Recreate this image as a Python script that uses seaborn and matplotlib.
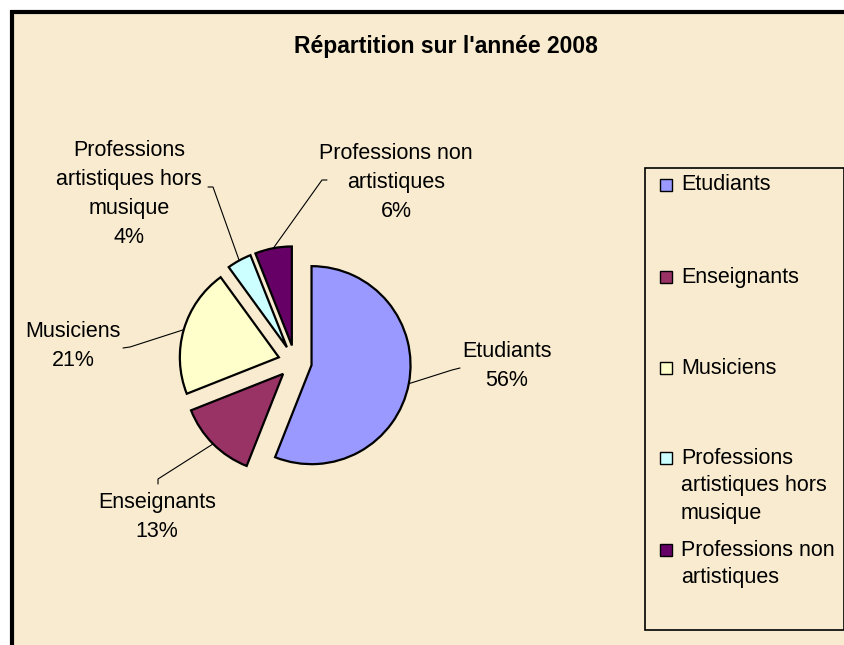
import matplotlib.pyplot as plt
import numpy as np
import seaborn as sns
from matplotlib.patches import Rectangle

# donnees
categories = [
    "Etudiants",
    "Enseignants",
    "Musiciens",
    "Professions\nartistiques hors\nmusique",
    "Professions non\nartistiques",
]
shares = [56, 13, 21, 4, 6]
colors = ["#9999FF", "#993366", "#FFFFCC", "#CCFFFF", "#660066"]
title = "Répartition sur l'année 2008"

W, H = 845, 645
CX, CY, R = 295, 362, 99  # centre et rayon du camembert (pixels)

# position des etiquettes et des traits de rappel (pixels)
label_xy = [(507, 366), (157, 517), (73, 346), (129, 194), (396, 182)]
leader_elbow = [(452, 370), (158, 479), (130, 347), (213, 187), (322, 180)]
leader_end = [(460, 368), (158, 484), (123, 348), (208, 187), (327, 180)]
legend_rows = [185, 277, 368, 458, 550]

sns.set_theme(style="white")
plt.rcParams["font.family"] = ["Liberation Sans", "DejaVu Sans"]

fig = plt.figure(figsize=(W / 100, H / 100), dpi=100)
fig.patch.set_facecolor("white")

# fond et cadre
bg = fig.add_axes([0, 0, 1, 1])
bg.set_xlim(0, W)
bg.set_ylim(H, 0)
bg.axis("off")
bg.add_patch(Rectangle((12, 12), W + 10, H + 10, facecolor="#F8EBCF",
                       edgecolor="black", linewidth=3))
bg.text(446, 47, title, ha="center", va="center", fontsize=16.5,
        fontweight="bold", color="black")


def px(x, y):
    return (x - CX) / R, (CY - y) / R


# camembert
span = 1.5
ax = fig.add_axes([(CX - span * R) / W, (H - CY - span * R) / H,
                   2 * span * R / W, 2 * span * R / H])
wedges, _ = ax.pie(
    shares,
    colors=sns.color_palette(colors),
    startangle=90,
    counterclock=False,
    explode=[0.17] * len(shares),
    radius=1,
    center=(0, 0),
    wedgeprops=dict(edgecolor="black", linewidth=1.6),
    frame=False,
)
ax.set_xlim(-span, span)
ax.set_ylim(-span, span)
ax.axis("off")

line_h = 29 / R
for w, name, share, lxy, elb, end in zip(
    wedges, categories, shares, label_xy, leader_elbow, leader_end
):
    mid = np.deg2rad((w.theta1 + w.theta2) / 2)
    ex = w.center[0] + w.r * np.cos(mid)
    ey = w.center[1] + w.r * np.sin(mid)
    bx, by = px(*elb)
    fx, fy = px(*end)
    ax.plot([ex, bx, fx], [ey, by, fy], color="black", linewidth=0.8,
            clip_on=False)
    lines = f"{name}\n{share}%".split("\n")
    tx, ty = px(*lxy)
    n = len(lines)
    for i, line in enumerate(lines):
        ax.text(tx, ty - (i - (n - 1) / 2) * line_h, line, ha="center",
                va="center", fontsize=15.5, color="black", clip_on=False)

# legende
bg.add_patch(Rectangle((645, 168), 199, 462, facecolor="none",
                       edgecolor="black", linewidth=1.2))
for name, col, y0 in zip(categories, colors, legend_rows):
    bg.add_patch(Rectangle((660, y0 - 6), 12, 12, facecolor=col,
                           edgecolor="black", linewidth=1.0))
    for i, line in enumerate(name.split("\n")):
        bg.text(681, y0 + i * 28, line, ha="left", va="center",
                fontsize=15.5, color="black")

fig.savefig("out.png", dpi=100)
